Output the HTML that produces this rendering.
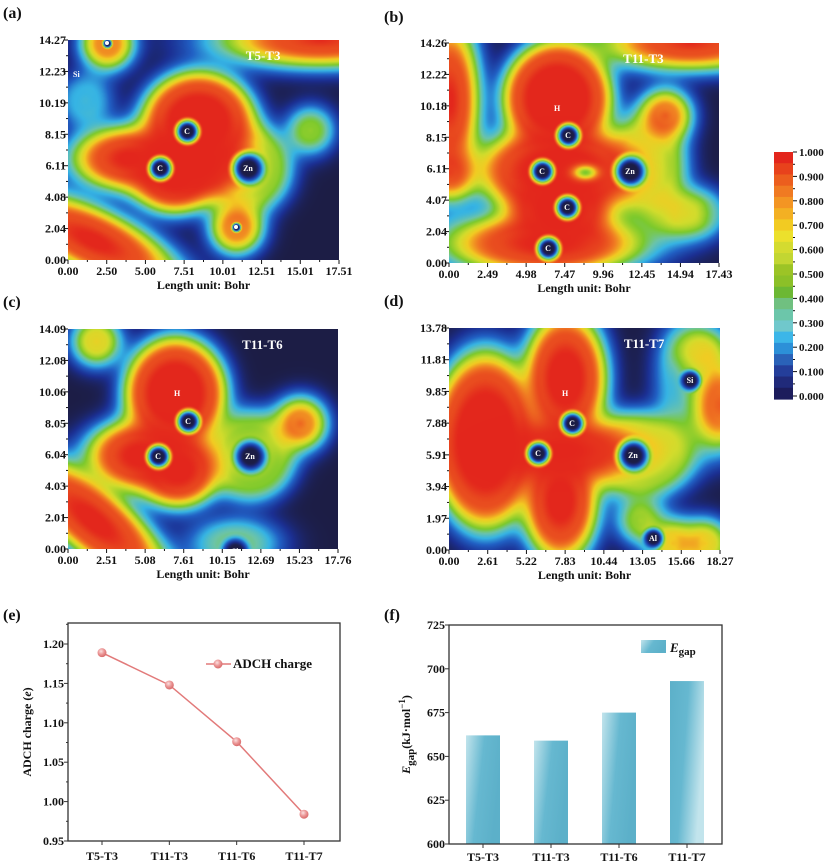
<!DOCTYPE html>
<html><head><meta charset="utf-8"><style>
body{margin:0;background:#fff;position:relative;width:832px;height:866px;overflow:hidden;}
canvas{position:absolute;}
svg{position:absolute;left:0;top:0;display:block;font-family:"Liberation Serif",serif;font-weight:bold;}
</style></head><body>
<div id="canv"></div>
<svg id="fig" width="832" height="866" viewBox="0 0 832 866" xmlns="http://www.w3.org/2000/svg">
<defs>
<linearGradient id="barg" x1="0" y1="0" x2="1" y2="0.35"><stop offset="0" stop-color="#c2e4ec"/><stop offset="0.5" stop-color="#66b8d0"/><stop offset="1" stop-color="#5cb0c9"/></linearGradient>
<linearGradient id="barg2" x1="0" y1="0" x2="1" y2="0.35"><stop offset="0" stop-color="#5cb0c9"/><stop offset="0.5" stop-color="#66b8d0"/><stop offset="1" stop-color="#c2e4ec"/></linearGradient>
<radialGradient id="ball" cx="0.4" cy="0.35" r="0.65"><stop offset="0" stop-color="#fbe0e0"/><stop offset="0.5" stop-color="#ec9a9a"/><stop offset="1" stop-color="#d86a6a"/></radialGradient>
</defs>
<g id="heat"></g>
<g id="cbar"></g>
<g id="chartE"></g>
<g id="chartF"></g>
</svg>
<script>
// ===== chart (e) data =====
const eCategories = ["T5-T3","T11-T3","T11-T6","T11-T7"];
const eValues = [1.189, 1.148, 1.076, 0.984];
const eTicks = [0.95, 1.00, 1.05, 1.10, 1.15, 1.20];
// ===== chart (f) data =====
const fCategories = ["T5-T3","T11-T3","T11-T6","T11-T7"];
const fValues = [662, 659, 675, 693];
const fTicks = [600, 625, 650, 675, 700, 725];
// ===== colorbar =====
const cbTicks = ["1.000","0.900","0.800","0.700","0.600","0.500","0.400","0.300","0.200","0.100","0.000"];
const cbColors = ["#e3261c","#e8421c","#ec5e1e","#f07a22","#f39523","#f3b023","#f2cb22","#ece02c","#d4db30","#c2d632","#9cc426","#8cc028","#6cb834","#70c080","#6cc6aa","#70c8cc","#3cb6e8","#2c90d8","#2a62b8","#243e9a","#202a7a","#1c1c5c"];

const NS="http://www.w3.org/2000/svg";
function mk(tag, attrs, parent){const e=document.createElementNS(NS,tag);for(const k in attrs)e.setAttribute(k,attrs[k]);parent.appendChild(e);return e;}
function txt(parent,x,y,s,size,anchor,extra){const t=mk('text',Object.assign({x:x,y:y,'font-size':size,'text-anchor':anchor||'start',fill:'#111'},extra||{}),parent);t.textContent=s;return t;}

const cmap=[[0,[28,29,69]],[0.1,[27,47,146]],[0.22,[33,96,196]],[0.34,[54,180,228]],[0.45,[108,196,168]],[0.55,[124,201,44]],[0.68,[210,220,44]],[0.77,[242,203,34]],[0.87,[240,122,34]],[1,[227,38,28]]];
function col(v){v=Math.max(0,Math.min(1,v));for(let i=1;i<cmap.length;i++){if(v<=cmap[i][0]){const a=cmap[i-1],b=cmap[i],t=(v-a[0])/(b[0]-a[0]);return [a[1][0]+(b[1][0]-a[1][0])*t,a[1][1]+(b[1][1]-a[1][1])*t,a[1][2]+(b[1][2]-a[1][2])*t];}}return cmap[cmap.length-1][1];}
const peakOf=[0,0.36,0.5,0.6,0.76,0.9,1.0];

const panels=[
 {id:'a',x:68,y:40,w:271,h:220,title:'T5-T3',yt:["0.00","2.04","4.08","6.11","8.15","10.19","12.23","14.27"],xt:["0.00","2.50","5.00","7.51","10.01","12.51","15.01","17.51"],
  blobs:[[130,82,40,36,0,6],[60,118,28,16,0,6],[105,132,26,24,0,6],[178,128,30,30,0,3],[25,200,46,16,25,6],[168,187,9,9,0,5],[39,3,9,9,0,5],[252,0,38,10,0,6],[242,90,6,6,0,3],[17,60,10,10,0,1],[128,125,28,18,0,6]],
  holes:[[119,91,10,'C'],[92,128,10,'C'],[180,128,14,'Zn'],[168,187,4,''],[39,3,4,'']],labels:[[5,37,'Si']]},
 {id:'b',x:449,y:43,w:270,h:220,title:'T11-T3',yt:["0.00","2.04","4.07","6.11","8.15","10.18","12.22","14.26"],xt:["0.00","2.49","4.98","7.47","9.96","12.45","14.94","17.43"],
  blobs:[[108,55,40,42,0,6],[111,127,56,30,0,6],[96,200,50,16,0,6],[196,122,26,32,0,3],[0,57,14,38,0,6],[0,129,8,8,0,5],[216,72,9,9,0,5],[241,0,34,10,0,6],[216,170,6,6,0,1],[236,170,8,8,0,2],[256,170,7,7,0,1],[110,165,33,28,0,6]],
  holes:[[119,92,10,'C'],[93,128,10,'C'],[118,164,10,'C'],[99,205,10,'C'],[181,128,14,'Zn']],spots:[[136,129,12,7]],labels:[[105,68,'H']]},
 {id:'c',x:68,y:329,w:270,h:220,title:'T11-T6',yt:["0.00","2.01","4.03","6.04","8.05","10.06","12.08","14.09"],xt:["0.00","2.51","5.08","7.61","10.15","12.69","15.23","17.76"],
  blobs:[[107,64,36,40,0,6],[72,126,30,20,0,6],[110,140,24,22,0,6],[182,126,30,30,0,3],[25,191,50,18,40,6],[232,94,9,9,0,5],[28,12,7,7,0,4],[167,214,14,8,0,2]],
  holes:[[120,92,10,'C'],[90,127,10,'C'],[182,127,14,'Zn'],[167,222,12,'Si']],labels:[[106,67,'H']]},
 {id:'d',x:449,y:328,w:271,h:222,title:'T11-T7',yt:["0.00","1.97","3.94","5.91","7.88","9.85","11.81","13.78"],xt:["0.00","2.61","5.22","7.83","10.44","13.05","15.66","18.27"],
  blobs:[[36,112,38,64,0,6],[116,50,26,42,0,6],[111,122,44,16,0,6],[111,172,22,36,0,6],[190,127,36,28,0,3],[271,77,10,16,0,5],[241,52,20,36,0,1],[251,22,6,5,0,3],[223,215,7,7,0,4],[256,215,7,7,0,4],[191,192,6,6,0,3]],
  holes:[[123,95,10,'C'],[89,125,10,'C'],[184,127,14,'Zn'],[241,52,9,'Si'],[204,210,9,'Al']],labels:[[113,68,'H']]}
];
function ss(a,b,x){let t=(x-a)/(b-a);t=Math.max(0,Math.min(1,t));return t*t*(3-2*t);}
const canvDiv=document.getElementById('canv');
panels.forEach(p=>{
  const cv=document.createElement('canvas');
  
  
  cv.width=p.w;cv.height=p.h;cv.style.left=p.x+'px';cv.style.top=p.y+'px';
  canvDiv.appendChild(cv);
  const ctx=cv.getContext('2d');const img=ctx.createImageData(p.w,p.h);
  const pre=p.blobs.map(b=>{const a=b[4]*Math.PI/180;return {cx:b[0],cy:b[1],rx:b[2],ry:b[3],c:Math.cos(a),s:Math.sin(a),pk:peakOf[b[5]]};});
  for(let y=0;y<p.h;y++)for(let x=0;x<p.w;x++){
    let prod=1;
    for(const b of pre){const dx=x-b.cx,dy=y-b.cy;const u=(dx*b.c+dy*b.s)/b.rx,w=(-dx*b.s+dy*b.c)/b.ry;
      const r=Math.sqrt(u*u+w*w);const e=(r-1)*Math.min(b.rx,b.ry);
      let v=e<=0?b.pk*(1-0.06*ss(-12,0,e)):b.pk*0.94*Math.exp(-(e/20)*(e/20));
      prod*=(1-v*0.999);}
    let v=1-prod;
    (p.spots||[]).forEach(s=>{const u=(x-s[0])/s[2],w=(y-s[1])/s[3];const d=Math.sqrt(u*u+w*w);v=v*(1-0.45*Math.exp(-d*d*1.2));});
    for(const h of p.holes){const d=Math.hypot(x-h[0],y-h[1]);const r=h[2];if(d<r*2.2){v=v*ss(r*0.45,r*1.6,d);}}
    const c=col(v);const i=(y*p.w+x)*4;img.data[i]=c[0];img.data[i+1]=c[1];img.data[i+2]=c[2];img.data[i+3]=255;
  }
  ctx.putImageData(img,0,0);
});

const heat=document.getElementById('heat');
panels.forEach(p=>{
  const g=mk('g',{},heat);
  
  
  p.holes.forEach(h=>{
    const cx=p.x+h[0],cy=p.y+h[1];
    if(h[3]){const t=txt(g,cx,cy+3,h[3],8,'middle',{fill:'#fff'});
      
      }
    else {const c=mk('circle',{cx:cx,cy:cy,r:2,fill:'#fff'},g);
      
      }
  });
  (p.labels||[]).forEach(l=>{const t=txt(g,p.x+l[0],p.y+l[1],l[2],8,'start',{fill:'#fff'});
    
    });
  const tt=txt(g,p.x+p.w*0.72,p.y+20,p.title,13,'middle',{fill:'#fff'});
  
  
  const pla=txt(g,p.id==='a'||p.id==='c'?3:384,p.y-(p.id==='b'?21:22),'('+p.id+')',16,'start');
  
  
  const n=p.yt.length;
  p.yt.forEach((s,i)=>{const yy=p.y+p.h-i*p.h/(n-1);
    mk('line',{x1:p.x-4,x2:p.x,y1:yy,y2:yy,stroke:'#111'},g);
    if(i<n-1)mk('line',{x1:p.x-2,x2:p.x,y1:yy-p.h/(n-1)/2,y2:yy-p.h/(n-1)/2,stroke:'#111'},g);
    const t=txt(g,p.x-2,yy+4,s,12,'end');
    
    });
  const m=p.xt.length;
  p.xt.forEach((s,i)=>{const xx=p.x+i*p.w/(m-1);
    mk('line',{x1:xx,x2:xx,y1:p.y+p.h,y2:p.y+p.h+4,stroke:'#111'},g);
    if(i<m-1)mk('line',{x1:xx+p.w/(m-1)/2,x2:xx+p.w/(m-1)/2,y1:p.y+p.h,y2:p.y+p.h+2,stroke:'#111'},g);
    const t=txt(g,xx,p.y+p.h+15,s,12,'middle');
    
    });
  const xl=txt(g,p.x+p.w/2,p.y+p.h+29,'Length unit: Bohr',12,'middle');
  
  
});

// ===== colorbar =====
(function(){
  const g=document.getElementById('cbar');
  const x=774,w=19,top=152,bot=399,n=cbColors.length,h=(bot-top)/n;
  cbColors.forEach((c,i)=>{const r=mk('rect',{x:x,y:top+i*h,width:w,height:h+0.6,fill:c},g);
    
    });
  cbTicks.forEach((s,i)=>{const yy=top+i*(bot-3-top)/(cbTicks.length-1);
    mk('line',{x1:x+w,x2:x+w+4,y1:yy,y2:yy,stroke:'#111'},g);
    if(i<cbTicks.length-1)mk('line',{x1:x+w,x2:x+w+2,y1:yy+12.3,y2:yy+12.3,stroke:'#111'},g);
    const t=txt(g,x+w+6,yy+4,s,11,'start');
    
    });
})();

// ===== chart (e) =====
(function(){
  const g=document.getElementById('chartE');
  const L=68,R=340,T=623,B=841;
  const ymin=0.95,ymax=1.20,yTop=644;
  const ys=v=>B-(v-ymin)/(ymax-ymin)*(B-yTop);
  const xs=i=>102+i*(304-102)/(eCategories.length-1);
  txt(g,3,620,'(e)',16,'start');
  mk('rect',{x:L,y:T,width:R-L,height:B-T,fill:'none',stroke:'#333','stroke-width':1.3},g);
  eTicks.forEach(v=>{const yy=ys(v);
    mk('line',{x1:L-4,x2:L,y1:yy,y2:yy,stroke:'#333'},g);
    mk('line',{x1:L-2,x2:L,y1:yy-(B-yTop)/10,y2:yy-(B-yTop)/10,stroke:'#333'},g);
    const t=txt(g,L-4,yy+4,v.toFixed(2),12,'end');
    
    });
  eCategories.forEach((c,i)=>{mk('line',{x1:xs(i),x2:xs(i),y1:B,y2:B+4,stroke:'#333'},g);
    const t=txt(g,xs(i),B+19,c,12,'middle');
    
    });
  const yt=txt(g,0,0,'ADCH charge (',12,'middle',{transform:'translate(31 '+((T+B)/2)+') rotate(-90)'});
  const it=mk('tspan',{'font-style':'italic'},yt); it.textContent='e';
  const t2=mk('tspan',{},yt); t2.textContent=')';
  
  
  const pts=eValues.map((v,i)=>xs(i)+','+ys(v)).join(' ');
  const line=mk('polyline',{points:pts,fill:'none',stroke:'#e27a7a','stroke-width':1.5},g);
  
  
  eValues.forEach((v,i)=>{const c=mk('circle',{cx:xs(i),cy:ys(v),r:4.5,fill:'url(#ball)'},g);
    
    });
  const lg=mk('g',{},g);
  
  
  mk('line',{x1:206,x2:231,y1:664,y2:664,stroke:'#e27a7a','stroke-width':1.5},lg);
  mk('circle',{cx:218,cy:664,r:4.5,fill:'url(#ball)'},lg);
  txt(lg,233,668,'ADCH  charge',13,'start');
})();

// ===== chart (f) =====
(function(){
  const g=document.getElementById('chartF');
  const L=449,R=722,T=625,B=844;
  const ymin=600,ymax=725;
  const ys=v=>B-(v-ymin)/(ymax-ymin)*(B-T);
  const xs=i=>483+i*(687-483)/(fCategories.length-1);
  txt(g,384,620,'(f)',16,'start');
  fValues.forEach((v,i)=>{const r=mk('rect',{x:xs(i)-17,y:ys(v),width:34,height:B-ys(v),fill:i===3?'url(#barg2)':'url(#barg)'},g);
    
    });
  mk('rect',{x:L,y:T,width:R-L,height:B-T,fill:'none',stroke:'#333','stroke-width':1.3},g);
  fTicks.forEach(v=>{const yy=ys(v);
    mk('line',{x1:L-4,x2:L,y1:yy,y2:yy,stroke:'#333'},g);
    const t=txt(g,L-4,yy+4,String(v),12,'end');
    
    });
  fCategories.forEach((c,i)=>{mk('line',{x1:xs(i),x2:xs(i),y1:B,y2:B+4,stroke:'#333'},g);
    const t=txt(g,xs(i),B+17,c,12,'middle');
    
    });
  const yt=txt(g,0,0,'',12,'middle',{transform:'translate(410 '+((T+B)/2)+') rotate(-90)'});
  const a=mk('tspan',{'font-style':'italic'},yt);a.textContent='E';
  const b=mk('tspan',{dy:4,'font-size':11},yt);b.textContent='gap';
  const c=mk('tspan',{dy:-4},yt);c.textContent='(kJ·mol';
  const d=mk('tspan',{dy:-5,'font-size':9},yt);d.textContent='−1';
  const e=mk('tspan',{dy:5},yt);e.textContent=')';
  
  
  const lg=mk('g',{},g);
  
  
  mk('rect',{x:641,y:640,width:25,height:13,fill:'url(#barg)'},lg);
  const lt=txt(lg,670,652,'',13,'start');
  const l1=mk('tspan',{'font-style':'italic'},lt);l1.textContent='E';
  const l2=mk('tspan',{dy:3,'font-size':11},lt);l2.textContent='gap';
})();
</script>
</body></html>
